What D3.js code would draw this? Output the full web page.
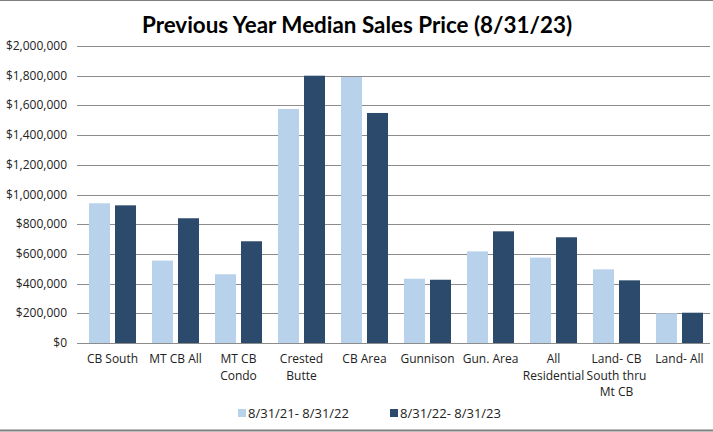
<!DOCTYPE html>
<html>
<head>
<meta charset="utf-8">
<script src="https://cdn.jsdelivr.net/npm/d3@7"></script>
<style>
  body { margin: 0; background: #fff; }
  svg text { font-family: "Open Sans", sans-serif; }
  svg text.title { font-family: Lato, "Open Sans", sans-serif; }
</style>
</head>
<body>
<svg width="713" height="432"></svg>
<script>
var width = 713, height = 432;

// data
var categories = [["CB South"], ["MT CB All"], ["MT CB", "Condo"], ["Crested", "Butte"], ["CB Area"],
                  ["Gunnison"], ["Gun. Area"], ["All", "Residential"], ["Land- CB", "South thru", "Mt CB"], ["Land- All"]];
var seriesNames = ["8/31/21- 8/31/22", "8/31/22- 8/31/23"];
var prevYear = [941000, 555000, 463000, 1576000, 1791000, 433000, 617000, 575000, 496000, 200000];
var curYear  = [927000, 840000, 685000, 1800000, 1549000, 426000, 752000, 712000, 422000, 204000];
var yTicks = [0, 200000, 400000, 600000, 800000, 1000000, 1200000, 1400000, 1600000, 1800000, 2000000];
var colors = ["#b8d2ec", "#2c4a6b"];

var svg = d3.select('svg');

svg.append('rect').attr('width', width).attr('height', height).attr('fill', 'white');

// thin frame lines top and bottom
svg.append('line').attr('x1', 0).attr('x2', width).attr('y1', 0.5).attr('y2', 0.5)
   .attr('stroke', '#7f7f7f').attr('stroke-width', 1);
svg.append('line').attr('x1', 0).attr('x2', width).attr('y1', 430.5).attr('y2', 430.5)
   .attr('stroke', '#7f7f7f').attr('stroke-width', 2);

svg.append('text')
   .attr('class', 'title')
   .attr('x', 357).attr('y', 33)
   .attr('text-anchor', 'middle')
   .style('font-size', '22.4px').style('font-weight', 'bold')
   .text('Previous Year Median Sales Price (8/31/23)');

var x = d3.scaleBand()
  .domain(d3.range(categories.length))
  .range([81, 711])
  .paddingInner(0.254)
  .paddingOuter(0.127);

var xSub = d3.scaleBand()
  .domain([0, 1])
  .range([0, x.bandwidth()])
  .paddingInner(0.192);

var y = d3.scaleLinear()
  .domain([0, 2000000])
  .range([343, 46]);

var fmt = function(v) { return '$' + d3.format(',')(v); };

// gridlines + ticks
var gGrid = svg.append('g');
gGrid.selectAll('line')
  .data(yTicks)
  .enter()
  .append('line')
  .attr('x1', 77).attr('x2', 710)
  .attr('y1', function(d) { return Math.round(y(d)) + 0.5; })
  .attr('y2', function(d) { return Math.round(y(d)) + 0.5; })
  .attr('stroke', '#8c8c8c')
  .attr('stroke-width', 1);

gGrid.selectAll('text')
  .data(yTicks)
  .enter()
  .append('text')
  .attr('x', 67)
  .attr('y', function(d) { return y(d) + 4; })
  .attr('text-anchor', 'end')
  .style('font-size', '12px')
  .attr('fill', '#222')
  .text(fmt);

// bars
var series = [prevYear, curYear];
var gBars = svg.append('g');
series.forEach(function(vals, si) {
  gBars.selectAll('.bar' + si)
    .data(vals)
    .enter()
    .append('rect')
    .attr('class', 'bar' + si)
    .attr('x', function(d, i) { return x(i) + xSub(si); })
    .attr('width', xSub.bandwidth())
    .attr('y', function(d) { return y(d); })
    .attr('height', function(d) { return y(0) - y(d); })
    .attr('fill', colors[si]);
});

// baseline drawn on top of bars
svg.append('line').attr('x1', 77).attr('x2', 710)
   .attr('y1', Math.round(y(0)) + 0.5).attr('y2', Math.round(y(0)) + 0.5)
   .attr('stroke', '#8c8c8c');

// category labels
var gCat = svg.append('g');
categories.forEach(function(lines, i) {
  var t = gCat.append('text')
    .attr('text-anchor', 'middle')
    .style('font-size', '12px')
    .attr('fill', '#222');
  lines.forEach(function(s, j) {
    t.append('tspan')
      .attr('x', x(i) + x.bandwidth() / 2)
      .attr('y', 363 + j * 16.5)
      .text(s);
  });
});

// legend
var legendX = [238, 390];
var gLeg = svg.append('g');
seriesNames.forEach(function(name, i) {
  gLeg.append('rect')
    .attr('x', legendX[i]).attr('y', 409)
    .attr('width', 8).attr('height', 8)
    .attr('fill', colors[i]);
  gLeg.append('text')
    .attr('x', legendX[i] + 10).attr('y', 418)
    .style('font-size', '13px')
    .attr('fill', '#222')
    .text(name);
});
</script>
</body>
</html>
